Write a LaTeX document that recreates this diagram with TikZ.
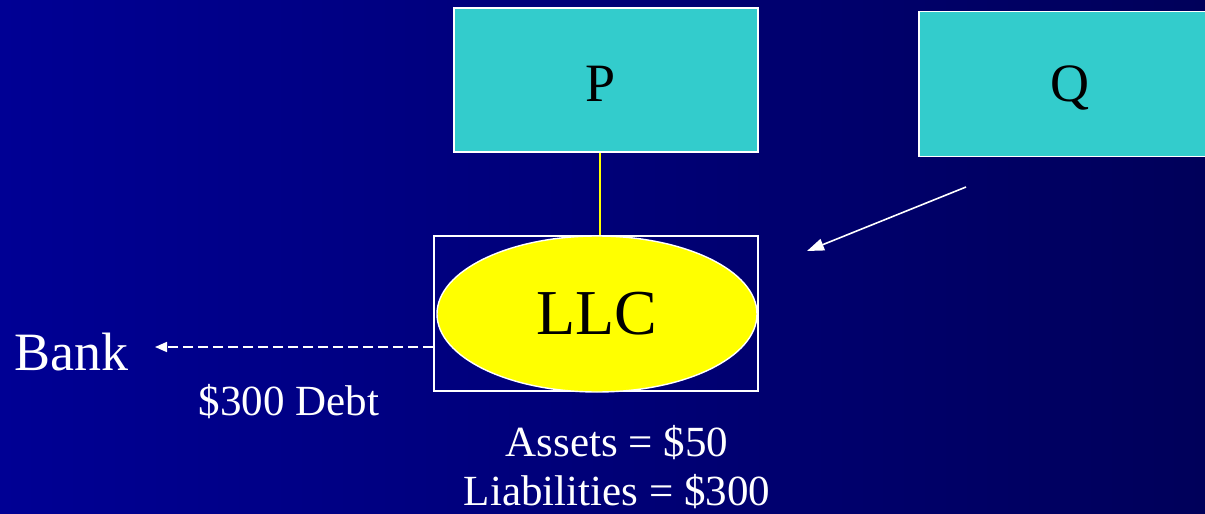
\documentclass[tikz,border=0pt]{standalone}
\usepackage{fontspec}
\setmainfont{Liberation Serif}
\usetikzlibrary{arrows.meta,shapes.geometric}
\definecolor{boxcyan}{RGB}{51,204,204}
\definecolor{llcyellow}{RGB}{255,255,0}
\definecolor{bgleft}{RGB}{0,0,148}
\definecolor{bgright}{RGB}{0,0,90}
\tikzset{
  entity/.style={draw=white, line width=1.6pt, fill=boxcyan, inner sep=0pt, font=\fontsize{54}{60}\selectfont},
  llcell/.style={ellipse, draw=white, line width=1.4pt, fill=llcyellow, inner sep=0pt, font=\fontsize{64}{70}\selectfont},
  frame/.style={draw=white, line width=1.2pt, inner sep=0pt},
  label/.style={text=white, inner sep=0pt},
  plain/.style={white, line width=1.6pt},
}
\begin{document}
\begin{tikzpicture}[x=1pt,y=-1pt]
\useasboundingbox (0,0) rectangle (1205,514);
\shade[left color=bgleft, right color=bgright] (0,0) rectangle (1205,514);
\clip (0,0) rectangle (1205,514);
\node[entity, minimum width=304pt, minimum height=144pt] (P) at (606,80) {};
\node[font=\fontsize{54}{60}\selectfont, inner sep=0pt] (Pt) at (601,84) {P};
\node[entity, minimum width=320pt, minimum height=145pt, anchor=west] (Qbox) at (918,84) {};
\node[font=\fontsize{54}{60}\selectfont, inner sep=0pt] (Q) at (1070,88) {Q};
\node[frame, minimum width=324pt, minimum height=155pt] (frm) at (596,313.5) {};
\node[llcell, minimum width=320pt, minimum height=156pt] (LLC) at (597,314) {LLC};
\draw[llcyellow, line width=1.6pt] (P.south -| 600,0) -- (frm.north -| 600,0);
\node[label, font=\fontsize{54}{60}\selectfont] (bank) at (71,352) {Bank};
\node[label, font=\fontsize{43}{48}\selectfont] (debt) at (289,402) {\$300 Debt};
\node[label, font=\fontsize{43}{48}\selectfont] (assets) at (617,443) {Assets = \$50};
\node[label, font=\fontsize{43}{48}\selectfont] (liab) at (617,492) {Liabilities = \$300};
\coordinate (qs) at (966,187);
\coordinate (qe) at (807,251);
\coordinate (bk) at (155,347);
\draw[plain, -{Triangle[length=17pt,width=12pt]}] (qs) -- (qe);
\draw[plain, dash pattern=on 10pt off 5pt, -{Triangle[length=12pt,width=10pt]}] (frm.west |- bk) -- (bk);
\end{tikzpicture}
\end{document}
